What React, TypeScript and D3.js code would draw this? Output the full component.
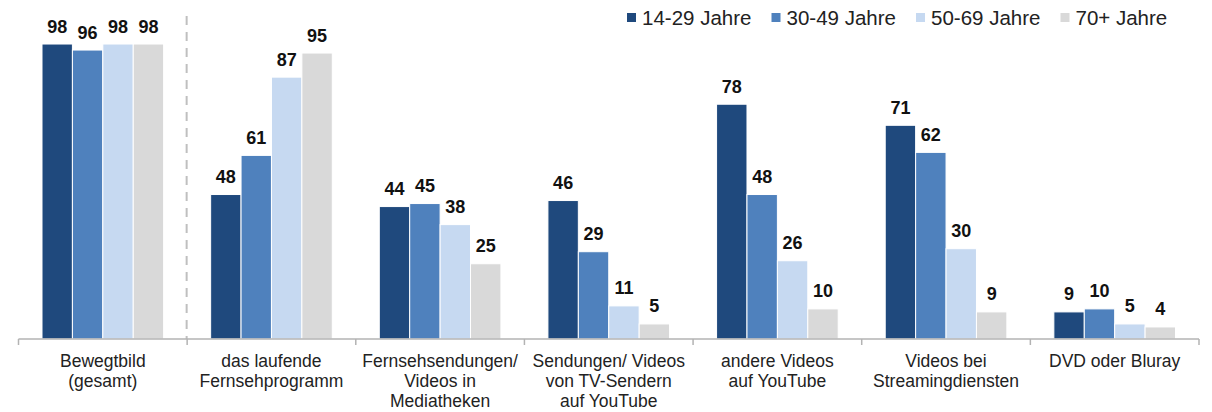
import React from "react";
import * as d3 from "d3";

const categories: string[][] = [
  ["Bewegtbild", "(gesamt)"],
  ["das laufende", "Fernsehprogramm"],
  ["Fernsehsendungen/", "Videos in", "Mediatheken"],
  ["Sendungen/ Videos", "von TV-Sendern", "auf YouTube"],
  ["andere Videos", "auf YouTube"],
  ["Videos bei", "Streamingdiensten"],
  ["DVD oder Bluray"],
];

const seriesNames = ["14-29 Jahre", "30-49 Jahre", "50-69 Jahre", "70+ Jahre"];
const seriesColors = ["#1F497D", "#4F81BD", "#C6D9F1", "#D9D9D9"];

const age14_29 = [98, 48, 44, 46, 78, 71, 9];
const age30_49 = [96, 61, 45, 29, 48, 62, 10];
const age50_69 = [98, 87, 38, 11, 26, 30, 5];
const age70plus = [98, 95, 25, 5, 10, 9, 4];

const seriesValues = [age14_29, age30_49, age50_69, age70plus];

const W = 1212;
const H = 412;
const FONT = "'Liberation Sans', Arial, sans-serif";

export default function App() {
  const keys = categories.map((_, i) => String(i));
  const x0 = d3.scaleBand<string>().domain(keys).range([18.5, 1199]).padding(0);
  const bw = x0.bandwidth();
  const x1 = d3
    .scaleBand<string>()
    .domain(seriesNames)
    .range([23.5, bw - 23.5])
    .padding(0);
  const y = d3.scaleLinear().domain([0, 100]).range([339, 38]);
  const y0 = y(0);

  const legendX = d3.scaleLinear().domain([0, 1]).range([627, 771.5]);

  return (
    <svg
      width={W}
      height={H}
      style={{ position: "absolute", left: 0, top: 0, background: "#fff" }}
      fontFamily={FONT}
    >
      {/* dashed separator */}
      <line
        x1={x0("1")! - 0.5}
        x2={x0("1")! - 0.5}
        y1={16}
        y2={y0}
        stroke="#BFBFBF"
        strokeWidth={2}
        strokeDasharray="9,7"
      />
      {/* bars */}
      {keys.map((k, ci) => (
        <g key={k} transform={`translate(${x0(k)},0)`}>
          {seriesNames.map((s, si) => {
            const v = seriesValues[si][ci];
            const bx = x1(s)!;
            return (
              <g key={s}>
                <rect
                  x={bx}
                  y={y(v)}
                  width={x1.bandwidth()}
                  height={y0 - y(v)}
                  fill={seriesColors[si]}
                  stroke="#fff"
                  strokeWidth={1}
                />
                <text
                  x={bx + x1.bandwidth() / 2}
                  y={y(v) - 11.5}
                  textAnchor="middle"
                  fontWeight="bold"
                  fontSize={18}
                  fill="#111"
                >
                  {v}
                </text>
              </g>
            );
          })}
        </g>
      ))}
      {/* axis */}
      <line x1={18.5} x2={1199} y1={y0} y2={y0} stroke="#B3B3B3" strokeWidth={1.5} />
      {[...keys, "end"].map((k, i) => {
        const tx = i < keys.length ? x0(k)! : 1199;
        return (
          <line key={k} x1={tx} x2={tx} y1={y0} y2={y0 + 6} stroke="#B3B3B3" strokeWidth={1.5} />
        );
      })}
      {/* category labels */}
      {keys.map((k, ci) => (
        <text
          key={k}
          x={x0(k)! + bw / 2}
          textAnchor="middle"
          fontSize={17.5}
          fill="#222"
        >
          {categories[ci].map((line, li) => (
            <tspan key={li} x={x0(k)! + bw / 2} y={367 + li * 20}>
              {line}
            </tspan>
          ))}
        </text>
      ))}
      {/* legend */}
      {seriesNames.map((s, i) => {
        const lx = legendX(i);
        return (
          <g key={s}>
            <rect x={lx} y={13} width={9} height={9} fill={seriesColors[i]} />
            <text x={lx + 15} y={24.5} fontSize={20.5} fill="#222">
              {s}
            </text>
          </g>
        );
      })}
    </svg>
  );
}
